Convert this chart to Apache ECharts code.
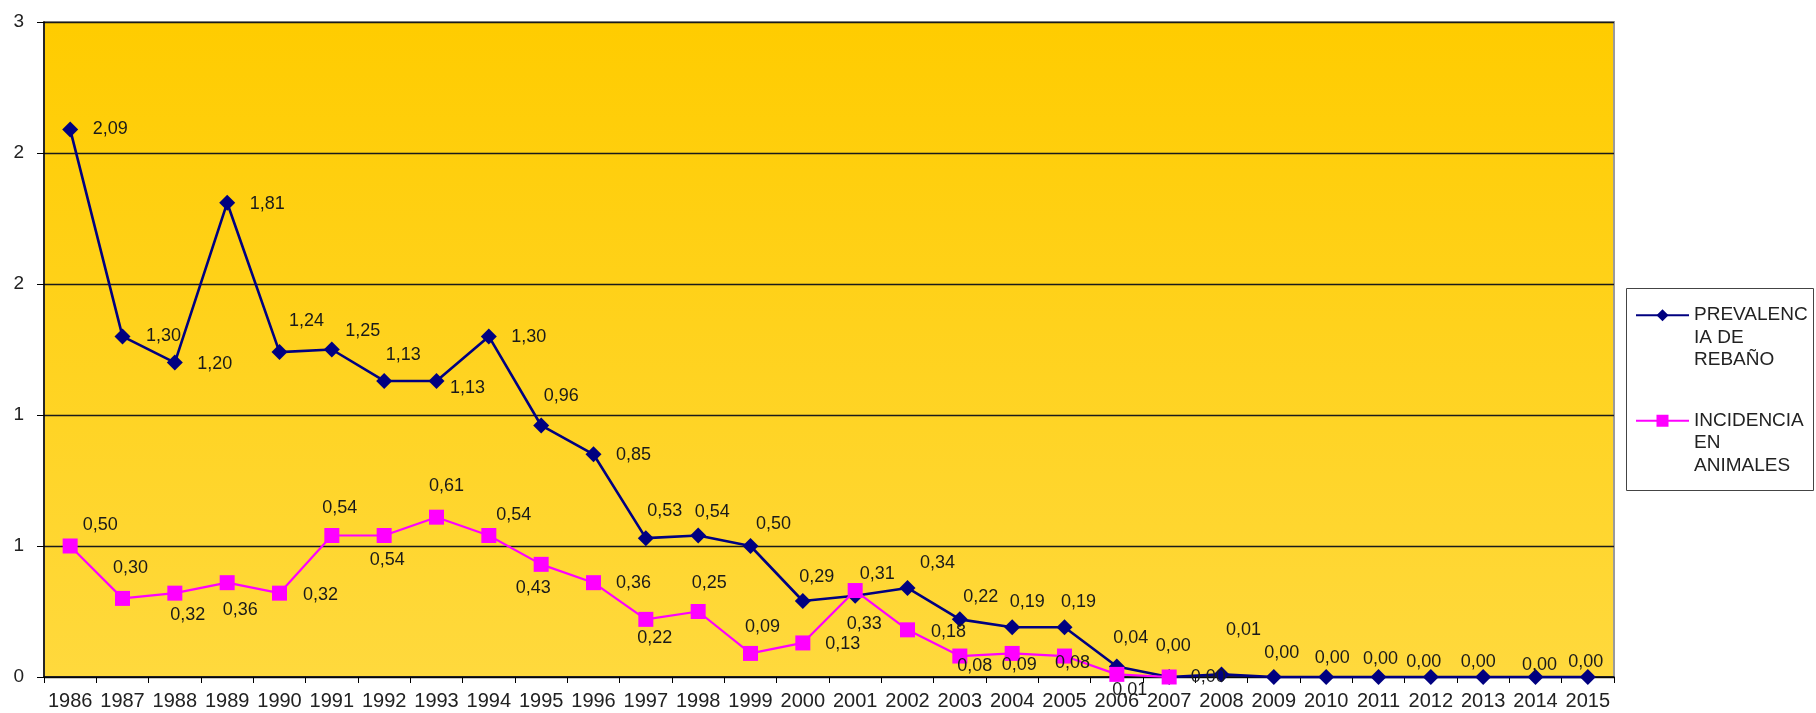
<!DOCTYPE html>
<html>
<head>
<meta charset="utf-8">
<script src="https://cdn.jsdelivr.net/npm/echarts@6/dist/echarts.min.js"></script>
<style>
  html, body { margin: 0; padding: 0; background: #fff; }
  #chart { width: 1816px; height: 713px; }
</style>
</head>
<body>
<div id="chart"></div>
<script>
// Years on the category axis
const years = ['1986','1987','1988','1989','1990','1991','1992','1993','1994','1995',
               '1996','1997','1998','1999','2000','2001','2002','2003','2004','2005',
               '2006','2007','2008','2009','2010','2011','2012','2013','2014','2015'];

// Herd prevalence (%)
const prevalenciaRebano = [2.09, 1.30, 1.20, 1.81, 1.24, 1.25, 1.13, 1.13, 1.30, 0.96,
                           0.85, 0.53, 0.54, 0.50, 0.29, 0.31, 0.34, 0.22, 0.19, 0.19,
                           0.04, 0.00, 0.01, 0.00, 0.00, 0.00, 0.00, 0.00, 0.00, 0.00];

// Incidence in animals (%), no records after 2007
const incidenciaAnimales = [0.50, 0.30, 0.32, 0.36, 0.32, 0.54, 0.54, 0.61, 0.54, 0.43,
                            0.36, 0.22, 0.25, 0.09, 0.13, 0.33, 0.18, 0.08, 0.09, 0.08,
                            0.01, 0.00, null, null, null, null, null, null, null, null];

// Y axis ticks
const yMin = 0, yMax = 2.5, yStep = 0.5;

// Hand-placed data label offsets [dx, dy] from each marker centre
const prevLabelOffsets = [[40,0],[41,0],[40,1],[40,1],[27,-31],[31,-18],[19,-26],[31,7],[40,1],[20,-29],
                          [40,1],[19,-27],[14,-23],[23,-22],[14,-24],[22,-22],[30,-25],[21,-22],[15,-25],[14,-25],
                          [14,-28],[4,-31],[22,-44],[8,-24],[6,-19],[2,-18],[-7,-15],[-5,-15],[4,-12],[-2,-15]];
const incLabelOffsets = [[30,-21],[8,-30],[13,22],[13,27],[41,2],[8,-27],[3,25],[10,-31],[25,-20],[-8,24],
                         [40,0],[9,19],[11,-28],[12,-26],[40,1],[9,33],[41,2],[15,10],[7,12],[8,7],
                         [13,16],[39,0]];

const FONT = "'Liberation Sans', Arial, sans-serif";
const fmt = v => v.toFixed(2).replace('.', ',');

function withLabels(values, offsets) {
  return values.map((v, i) => v === null ? null : {
    value: v,
    label: { offset: offsets[i] }
  });
}

const chart = echarts.init(document.getElementById('chart'), null, { renderer: 'canvas' });

chart.setOption({
  animation: false,
  textStyle: { fontFamily: FONT },
  grid: {
    left: 44, right: 202, top: 22, bottom: 36,
    show: true,
    borderColor: '#9a9a9a',
    borderWidth: 2,
    backgroundColor: {
      type: 'linear', x: 0, y: 0, x2: 0, y2: 1,
      colorStops: [
        { offset: 0, color: '#FFCC00' },
        { offset: 1, color: '#FFD93D' }
      ]
    }
  },
  xAxis: {
    type: 'category',
    data: years,
    boundaryGap: true,
    axisLine: { lineStyle: { color: '#000', width: 1.5 } },
    axisTick: { show: true, length: 6, inside: false, lineStyle: { color: '#000' } },
    axisLabel: { color: '#222', fontSize: 20, margin: 14, fontFamily: FONT, interval: 0 },
    splitLine: { show: false }
  },
  yAxis: {
    type: 'value',
    min: yMin, max: yMax, interval: yStep,
    axisLine: { show: true, lineStyle: { color: '#000', width: 1.5 } },
    axisTick: { show: true, length: 7, lineStyle: { color: '#000' } },
    axisLabel: {
      color: '#222', fontSize: 19, margin: 20, fontFamily: FONT,
      formatter: v => String(Math.round(v))
    },
    splitLine: { show: true, lineStyle: { color: '#1a1a1a', width: 1.3 } }
  },
  legend: {
    orient: 'vertical',
    left: 1635,
    top: 259,
    padding: 0,
    itemWidth: 53,
    itemHeight: 15,
    itemGap: -7,
    // two blank leading lines put the first text line level with the legend symbol
    formatter: name => '\n\n' + name,
    textStyle: {
      fontFamily: FONT, fontSize: 19, color: '#222',
      lineHeight: 22.5
    },
    data: ['PREVALENC\nIA DE\nREBAÑO', 'INCIDENCIA\nEN\nANIMALES']
  },
  graphic: [{
    type: 'rect',
    shape: { x: 1626.5, y: 288.5, width: 187, height: 202 },
    style: { fill: null, stroke: '#444', lineWidth: 1 },
    silent: true
  }],
  series: [
    {
      name: 'PREVALENC\nIA DE\nREBAÑO',
      type: 'line',
      data: withLabels(prevalenciaRebano, prevLabelOffsets),
      symbol: 'diamond',
      symbolSize: 16,
      showAllSymbol: true,
      clip: false,
      itemStyle: { color: '#000080' },
      lineStyle: { color: '#000080', width: 2.6 },
      label: {
        show: true, position: 'inside',
        color: '#1a1a1a', fontSize: 18, fontFamily: FONT,
        formatter: p => fmt(p.value)
      },
      emphasis: { disabled: true },
      z: 2
    },
    {
      name: 'INCIDENCIA\nEN\nANIMALES',
      type: 'line',
      data: withLabels(incidenciaAnimales, incLabelOffsets),
      symbol: 'rect',
      symbolSize: 15,
      showAllSymbol: true,
      clip: false,
      itemStyle: { color: '#FF00FF' },
      lineStyle: { color: '#FF00FF', width: 2.2 },
      label: {
        show: true, position: 'inside',
        color: '#1a1a1a', fontSize: 18, fontFamily: FONT,
        formatter: p => fmt(p.value)
      },
      emphasis: { disabled: true },
      z: 3
    }
  ]
});
</script>
</body>
</html>
